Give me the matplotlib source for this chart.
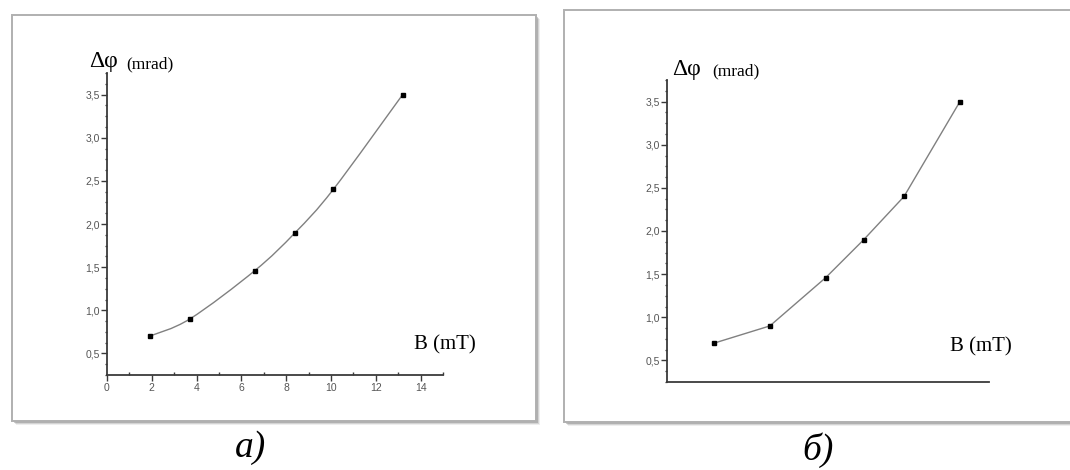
import matplotlib.pyplot as plt
from matplotlib.patches import Rectangle, PathPatch
from matplotlib.path import Path
from matplotlib.ticker import MultipleLocator, FuncFormatter
import numpy as np

# данные (a) и (б)
b_a = [1.9, 3.7, 6.6, 8.4, 10.1, 13.2]
phi_a = [0.7, 0.9, 1.46, 1.9, 2.4, 3.5]
b_b = [2.1, 4.6, 7.1, 8.8, 10.6, 13.1]
phi_b = [0.7, 0.9, 1.46, 1.9, 2.4, 3.5]

W, H = 1070, 470
fig = plt.figure(figsize=(W / 100, H / 100), dpi=100)
fig.patch.set_facecolor('white')


def px(x0, y0, x1, y1):
    # пиксели -> доли фигуры
    return [x0 / W, 1 - y1 / H, (x1 - x0) / W, (y1 - y0) / H]


def panel(x0, y0, x1, y1):
    # рамка с тенью
    for k, a in [(4, 0.10), (3, 0.18), (2, 0.30)]:
        fig.patches.append(Rectangle((x0 / W + k / W, 1 - (y1 + k) / H), (x1 - x0) / W, (y1 - y0) / H,
                                     transform=fig.transFigure, facecolor='#606060', edgecolor='none',
                                     alpha=a, zorder=-2))
    fig.patches.append(Rectangle((x0 / W, 1 - y1 / H), (x1 - x0) / W, (y1 - y0) / H,
                                 transform=fig.transFigure, facecolor='white', edgecolor='#b0b0b0',
                                 lw=1.4, zorder=-1))


panel(12, 15, 536, 421)
panel(564, 10, 1080, 422)

comma = FuncFormatter(lambda v, p: ('%.1f' % v).replace('.', ','))


def setup(ax, xmax, xticks=True):
    ax.set_facecolor('none')
    ax.set_xlim(0, xmax)
    ax.set_ylim(0.25, 3.75)
    for s in ['top', 'right']:
        ax.spines[s].set_visible(False)
    for s in ['left', 'bottom']:
        ax.spines[s].set_color('#3a3a3a')
        ax.spines[s].set_linewidth(1.3)
    ax.yaxis.set_major_locator(MultipleLocator(0.5))
    ax.yaxis.set_minor_locator(MultipleLocator(0.125))
    ax.yaxis.set_major_formatter(comma)
    ax.tick_params(axis='y', which='major', length=4, width=1, color='#3a3a3a', pad=1,
                   labelsize=7.5, labelcolor='#555555')
    ax.tick_params(axis='y', which='minor', length=1.8, width=0.9, color='#3a3a3a')
    if xticks:
        ax.xaxis.set_major_locator(MultipleLocator(2))
        ax.xaxis.set_minor_locator(MultipleLocator(1))
        ax.tick_params(axis='x', which='major', length=4, width=1, color='#3a3a3a', pad=2,
                       labelsize=7.5, labelcolor='#555555')
        ax.tick_params(axis='x', which='minor', direction='in', length=2.5, width=1, color='#3a3a3a')
    else:
        ax.set_xticks([])
    for t in ax.get_xticklabels() + ax.get_yticklabels():
        t.set_fontfamily('Liberation Sans')


def smooth(ax, x, y):
    # кривая Катмулла-Рома через точки
    p = np.column_stack([x, y])
    q = np.vstack([p[0], p, p[-1]])
    verts = [p[0]]
    codes = [Path.MOVETO]
    for i in range(len(p) - 1):
        a, b, c, d = q[i], q[i + 1], q[i + 2], q[i + 3]
        verts += [b + (c - a) / 6, c - (d - b) / 6, c]
        codes += [Path.CURVE4] * 3
    ax.add_patch(PathPatch(Path(verts, codes), facecolor='none', edgecolor='#808080', lw=1))


ax1 = fig.add_axes(px(107, 73, 443, 375))
setup(ax1, 15)
smooth(ax1, b_a, phi_a)
ax1.plot(b_a, phi_a, 's', color='black', ms=3.4)

ax2 = fig.add_axes(px(667, 80, 989, 382))
setup(ax2, 14.4, xticks=False)
ax2.plot(b_b, phi_b, '-', color='#808080', lw=1)
ax2.plot(b_b, phi_b, 's', color='black', ms=3.4)

serif = 'Liberation Serif'
fig.text(89 / W, 1 - 62 / H, 'Δφ', fontsize=17, family=serif, va='center', ha='left')
fig.text(126 / W, 1 - 64 / H, '(mrad)', fontsize=12.5, family=serif, va='center', ha='left')
fig.text(414 / W, 1 - 345 / H, 'B (mT)', fontsize=15, family=serif, va='center', ha='left')

fig.text(672 / W, 1 - 69 / H, 'Δφ', fontsize=17, family=serif, va='center', ha='left')
fig.text(712 / W, 1 - 71 / H, '(mrad)', fontsize=12.5, family=serif, va='center', ha='left')
fig.text(950 / W, 1 - 347 / H, 'B (mT)', fontsize=15, family=serif, va='center', ha='left')

fig.text(250 / W, 1 - 448 / H, 'a)', fontsize=27, family=serif, style='italic', va='center', ha='center')
fig.text(818 / W, 1 - 450 / H, 'б)', fontsize=27, family=serif, style='italic', va='center', ha='center')

fig.savefig('out.png', dpi=100)
